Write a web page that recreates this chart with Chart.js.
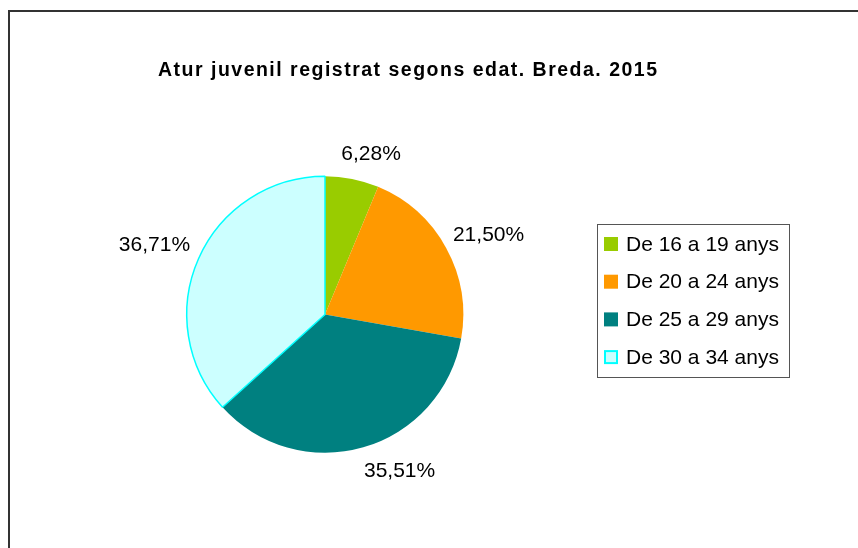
<!DOCTYPE html>
<html>
<head>
<meta charset="utf-8">
<script src="https://cdn.jsdelivr.net/npm/chart.js@4/dist/chart.umd.min.js"></script>
<style>
 html,body{margin:0;padding:0;background:#fff;}
 canvas{display:block;}
</style>
</head>
<body>
<canvas id="chart" width="858" height="548"></canvas>
<script>
const title='Atur juvenil registrat segons edat. Breda. 2015';
const categories=['De 16 a 19 anys','De 20 a 24 anys','De 25 a 29 anys','De 30 a 34 anys'];
const shares=[6.28,21.50,35.51,36.71];
const fills=['#99cc00','#ff9900','#008080','#ccffff'];
const edges=['#99cc00','#ff9900','#008080','#00ffff'];
const edgeWidths=[0,0,0,1.5];
// small hand nudges so the labels sit where the original put them
const labelShift=[[10,-1],[-3,-1],[22,1],[3,-4]];

const FONT='"Liberation Sans", Arial, sans-serif';

function pct(v){return v.toFixed(2).replace('.',',')+'%';}

// frame, title, slice labels and legend are painted by hand on the canvas
const decor={
 id:'decor',
 beforeDraw(chart){
  const ctx=chart.ctx;
  ctx.save();
  ctx.fillStyle='#fff';
  ctx.fillRect(0,0,chart.width,chart.height);
  ctx.strokeStyle='#333';
  ctx.lineWidth=2;
  ctx.beginPath();
  ctx.moveTo(9,chart.height+5);
  ctx.lineTo(9,11);
  ctx.lineTo(chart.width+5,11);
  ctx.stroke();
  ctx.restore();
 },
 afterDraw(chart){
  const ctx=chart.ctx;
  ctx.save();

  // title, spread out a bit like the original
  ctx.font='bold 19.5px '+FONT;
  ctx.fillStyle='#000';
  ctx.textBaseline='middle';
  const target=499;
  const raw=ctx.measureText(title).width;
  const gap=Math.max(0,(target-raw)/(title.length-1));
  let x=407.5-target/2;
  for(const ch of title){
   ctx.textAlign='left';
   ctx.fillText(ch,x,71);
   x+=ctx.measureText(ch).width+gap;
  }

  // percentage labels outside each slice
  ctx.font='21px '+FONT;
  ctx.textAlign='center';
  const arcs=chart.getDatasetMeta(0).data;
  arcs.forEach((arc,i)=>{
   const p=arc.getProps(['x','y','startAngle','endAngle','outerRadius'],true);
   const mid=(p.startAngle+p.endAngle)/2;
   const c=Math.cos(mid),s=Math.sin(mid);
   const txt=pct(shares[i]);
   const hw=ctx.measureText(txt).width/2,hh=8;
   const r=p.outerRadius+16;
   const ax=p.x+c*r,ay=p.y+s*r;
   ctx.fillText(txt,ax+c*hw+labelShift[i][0],ay+s*hh+labelShift[i][1]);
  });

  // legend
  ctx.strokeStyle='#555';
  ctx.lineWidth=1;
  ctx.strokeRect(597.5,224.5,192,153);
  ctx.textAlign='left';
  categories.forEach((lab,i)=>{
   const y=244+i*37.7;
   if(edgeWidths[i]>0){
    ctx.fillStyle=fills[i];
    ctx.fillRect(605,y-6,12,12);
    ctx.strokeStyle=edges[i];
    ctx.lineWidth=2;
    ctx.strokeRect(605,y-6,12,12);
   }else{
    ctx.fillStyle=fills[i];
    ctx.fillRect(604,y-7,14,14);
   }
   ctx.fillStyle='#000';
   ctx.fillText(lab,626,y+1);
  });
  ctx.restore();
 }
};

new Chart(document.getElementById('chart'),{
 type:'pie',
 data:{
  labels:categories,
  datasets:[{
   data:shares,
   backgroundColor:fills,
   borderColor:edges,
   borderWidth:edgeWidths,
   hoverOffset:0
  }]
 },
 options:{
  responsive:false,
  animation:false,
  events:[],
  layout:{padding:{left:186,right:394,top:175.5,bottom:94.5}},
  plugins:{legend:{display:false},tooltip:{enabled:false},title:{display:false}}
 },
 plugins:[decor]
});
</script>
</body>
</html>
